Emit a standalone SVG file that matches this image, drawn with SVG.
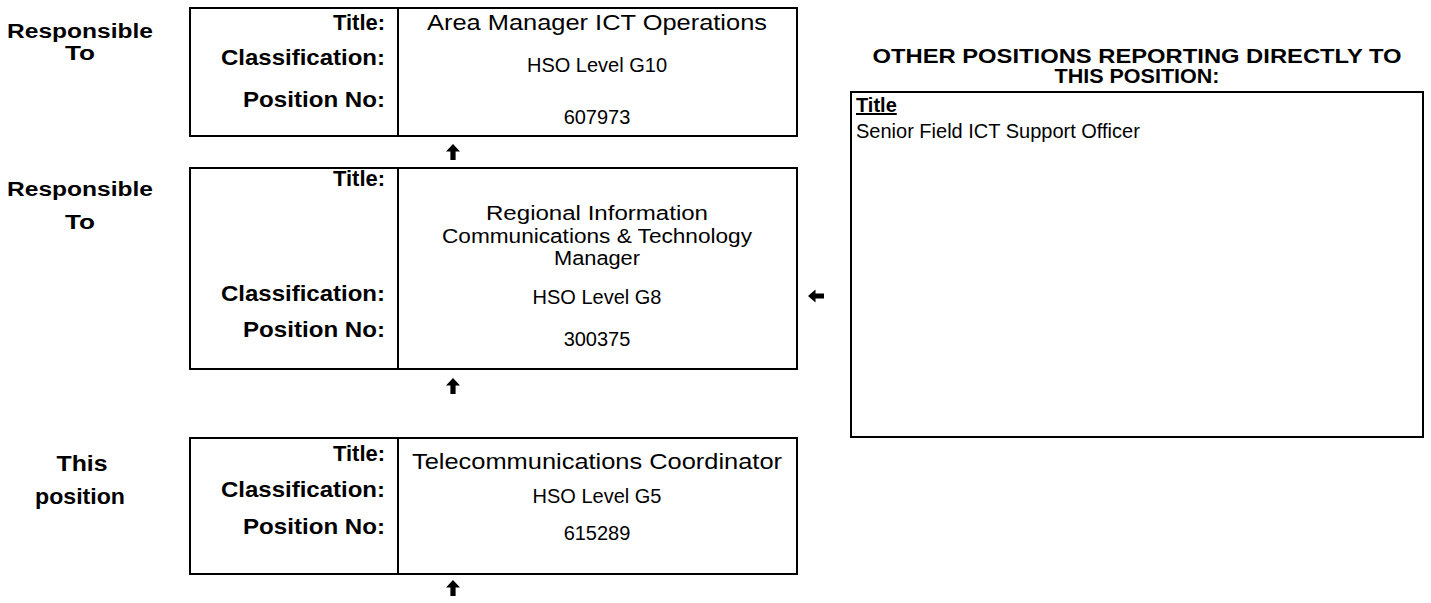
<svg xmlns="http://www.w3.org/2000/svg" width="1431" height="603" viewBox="0 0 1431 603">
  <style>
    .box { fill: #ffffff; stroke: #000000; stroke-width: 2; }
    .div { stroke: #000000; stroke-width: 2; }
    .t { font-family: "Liberation Sans", Arial, sans-serif; font-size: 20px; fill: #000000; }
    .L { font-size: 22px; }
    .h { font-family: "Liberation Sans", Arial, sans-serif; font-size: 20px; font-weight: bold; fill: #000000; text-anchor: middle; }
    .b { font-weight: bold; }
    .r { text-anchor: end; }
    .m { text-anchor: middle; }
    .arrow { fill: #000000; }
  </style>
  <defs>
    <path id="up" d="M0,-8 L7,-0.5 L2.6,-0.5 L2.6,8 L-2.6,8 L-2.6,-0.5 L-7,-0.5 Z"/>
    <path id="left" d="M-8,0 L-0.5,-6.5 L-0.5,-2.4 L8,-2.4 L8,2.4 L-0.5,2.4 L-0.5,6.5 Z"/>
  </defs>
  <rect width="1431" height="603" fill="#ffffff"/>

  <!-- row captions -->
  <g id="captions">
    <text class="t b m" x="80" y="38" textLength="146" lengthAdjust="spacingAndGlyphs">Responsible</text>
    <text class="t b m" x="80" y="60" textLength="30" lengthAdjust="spacingAndGlyphs">To</text>
    <text class="t b m" x="80" y="196" textLength="146" lengthAdjust="spacingAndGlyphs">Responsible</text>
    <text class="t b m" x="80" y="229" textLength="30" lengthAdjust="spacingAndGlyphs">To</text>
    <text class="t L b m" x="82" y="471" textLength="51" lengthAdjust="spacingAndGlyphs">This</text>
    <text class="t L b m" x="80" y="504" textLength="90" lengthAdjust="spacingAndGlyphs">position</text>
  </g>

  <!-- reporting manager -->
  <g id="area-manager">
    <rect class="box" x="190" y="8" width="607" height="128"/>
    <line class="div" x1="398" y1="8" x2="398" y2="136"/>
    <text class="t L b r" x="385" y="30" textLength="52" lengthAdjust="spacingAndGlyphs">Title:</text>
    <text class="t L b r" x="385" y="65" textLength="164" lengthAdjust="spacingAndGlyphs">Classification:</text>
    <text class="t L b r" x="385" y="107" textLength="142" lengthAdjust="spacingAndGlyphs">Position No:</text>
    <text class="t L m" x="597" y="30" textLength="340" lengthAdjust="spacingAndGlyphs">Area Manager ICT Operations</text>
    <text class="t m" x="597" y="72">HSO Level G10</text>
    <text class="t m" x="597" y="124">607973</text>
  </g>

  <g id="regional-manager">
    <rect class="box" x="190" y="168" width="607" height="201"/>
    <line class="div" x1="398" y1="168" x2="398" y2="369"/>
    <text class="t L b r" x="385" y="186" textLength="52" lengthAdjust="spacingAndGlyphs">Title:</text>
    <text class="t L b r" x="385" y="301" textLength="164" lengthAdjust="spacingAndGlyphs">Classification:</text>
    <text class="t L b r" x="385" y="337" textLength="142" lengthAdjust="spacingAndGlyphs">Position No:</text>
    <text class="t m" x="597" y="220" textLength="222" lengthAdjust="spacingAndGlyphs">Regional Information</text>
    <text class="t m" x="597" y="243" textLength="310" lengthAdjust="spacingAndGlyphs">Communications &amp; Technology</text>
    <text class="t m" x="597" y="265" textLength="86" lengthAdjust="spacingAndGlyphs">Manager</text>
    <text class="t m" x="597" y="304">HSO Level G8</text>
    <text class="t m" x="597" y="346">300375</text>
  </g>

  <g id="this-position">
    <rect class="box" x="190" y="438" width="607" height="136"/>
    <line class="div" x1="398" y1="438" x2="398" y2="574"/>
    <text class="t L b r" x="385" y="461" textLength="52" lengthAdjust="spacingAndGlyphs">Title:</text>
    <text class="t L b r" x="385" y="497" textLength="164" lengthAdjust="spacingAndGlyphs">Classification:</text>
    <text class="t L b r" x="385" y="534" textLength="142" lengthAdjust="spacingAndGlyphs">Position No:</text>
    <text class="t L m" x="597" y="469" textLength="370" lengthAdjust="spacingAndGlyphs">Telecommunications Coordinator</text>
    <text class="t m" x="597" y="503">HSO Level G5</text>
    <text class="t m" x="597" y="540">615289</text>
  </g>

  <g id="other-positions">
    <text class="h" x="1137" y="63" textLength="529" lengthAdjust="spacingAndGlyphs">OTHER POSITIONS REPORTING DIRECTLY TO</text>
    <text class="h" x="1137" y="83" textLength="165" lengthAdjust="spacingAndGlyphs">THIS POSITION:</text>
    <rect class="box" x="851" y="92" width="572" height="345"/>
    <text class="t b" x="856" y="112" text-decoration="underline">Title</text>
    <text class="t" x="856" y="138">Senior Field ICT Support Officer</text>
  </g>

  <!-- reporting arrows -->
  <g id="connectors">
    <use href="#up" class="arrow" x="453" y="152"/>
    <use href="#up" class="arrow" x="453" y="386"/>
    <use href="#up" class="arrow" x="453" y="588"/>
    <use href="#left" class="arrow" x="816" y="296"/>
  </g>
</svg>
